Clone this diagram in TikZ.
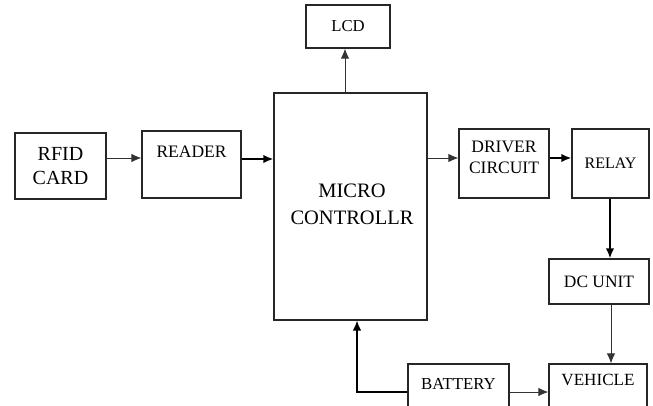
\documentclass[tikz,border=0pt]{standalone}
\usepackage{fontspec}
\setmainfont{Liberation Serif}
\usetikzlibrary{arrows.meta}
\begin{document}
\begin{tikzpicture}[x=1pt,y=-1pt,
  blk/.style={draw=black!85,line width=1.2pt,inner sep=0pt,minimum width=#1},
  lbl/.style={inner sep=0pt,align=center},
  arrthin/.style={draw=black!80,line width=0.9pt,-{Latex[length=10pt,width=8.5pt]}},
  arrthick/.style={draw=black,line width=1.8pt,-{Latex[length=10pt,width=8.5pt]}}]
\useasboundingbox (0,0) rectangle (653,405);
\clip (0,0) rectangle (653,405);
\fill[white] (0,0) rectangle (653,405);
% boxes
\node[blk=91pt,minimum height=66pt,lbl,font=\fontsize{20}{24}\selectfont] (rfid) at (60.5,166) {RFID\\CARD};
\node[blk=99pt,minimum height=67pt] (reader) at (191.5,164.5) {};
\node[lbl,font=\fontsize{17.5}{21}\selectfont] (readerT) at (191.5,152) {READER};
\node[blk=153pt,minimum height=227pt] (mcu) at (350.5,206.5) {};
\node[lbl,font=\fontsize{20.5}{27}\selectfont] (mcuT) at (352,204) {MICRO\\CONTROLLR};
\node[blk=84pt,minimum height=43pt,font=\fontsize{16.7}{20}\selectfont] (lcd) at (348,26.5) {LCD};
\node[blk=90pt,minimum height=69pt] (driver) at (504,163.5) {};
\node[lbl,font=\fontsize{17.5}{21}\selectfont] (driverT) at (504,157) {DRIVER\\CIRCUIT};
\node[blk=77pt,minimum height=69pt,font=\fontsize{16}{20}\selectfont] (relay) at (610.5,163.5) {RELAY};
\node[blk=100pt,minimum height=45pt,font=\fontsize{17.4}{20}\selectfont] (dc) at (599,281.5) {DC UNIT};
\node[blk=98pt,minimum height=50pt] (vehicle) at (598,389) {};
\node[lbl,font=\fontsize{17.1}{20}\selectfont] (vehicleT) at (598,380) {VEHICLE};
\node[blk=101pt,minimum height=50pt] (battery) at (458.5,389) {};
\node[lbl,font=\fontsize{16.8}{20}\selectfont] (batteryT) at (458.5,384) {BATTERY};
% connectors
\draw[arrthin] (rfid.east |- 0,158) -- (reader.west |- 0,158);
\draw[arrthick] (reader.east |- 0,159) -- (mcu.west |- 0,159);
\draw[arrthin] (mcu.north -| 345,0) -- (lcd.south -| 345,0);
\draw[arrthin] (mcu.east |- 0,158) -- (driver.west |- 0,158);
\draw[arrthick] (driver.east |- 0,158) -- (relay.west |- 0,158);
\draw[arrthick] (relay.south -| 610,0) -- (dc.north -| 610,0);
\draw[arrthin] (dc.south -| 611,0) -- (vehicle.north -| 611,0);
\draw[arrthin] (battery.east |- 0,392) -- (vehicle.west |- 0,392);
\draw[arrthick,line width=1.3pt] (battery.west |- 0,392) -| (mcu.south -| 357,0);
\end{tikzpicture}
\end{document}
